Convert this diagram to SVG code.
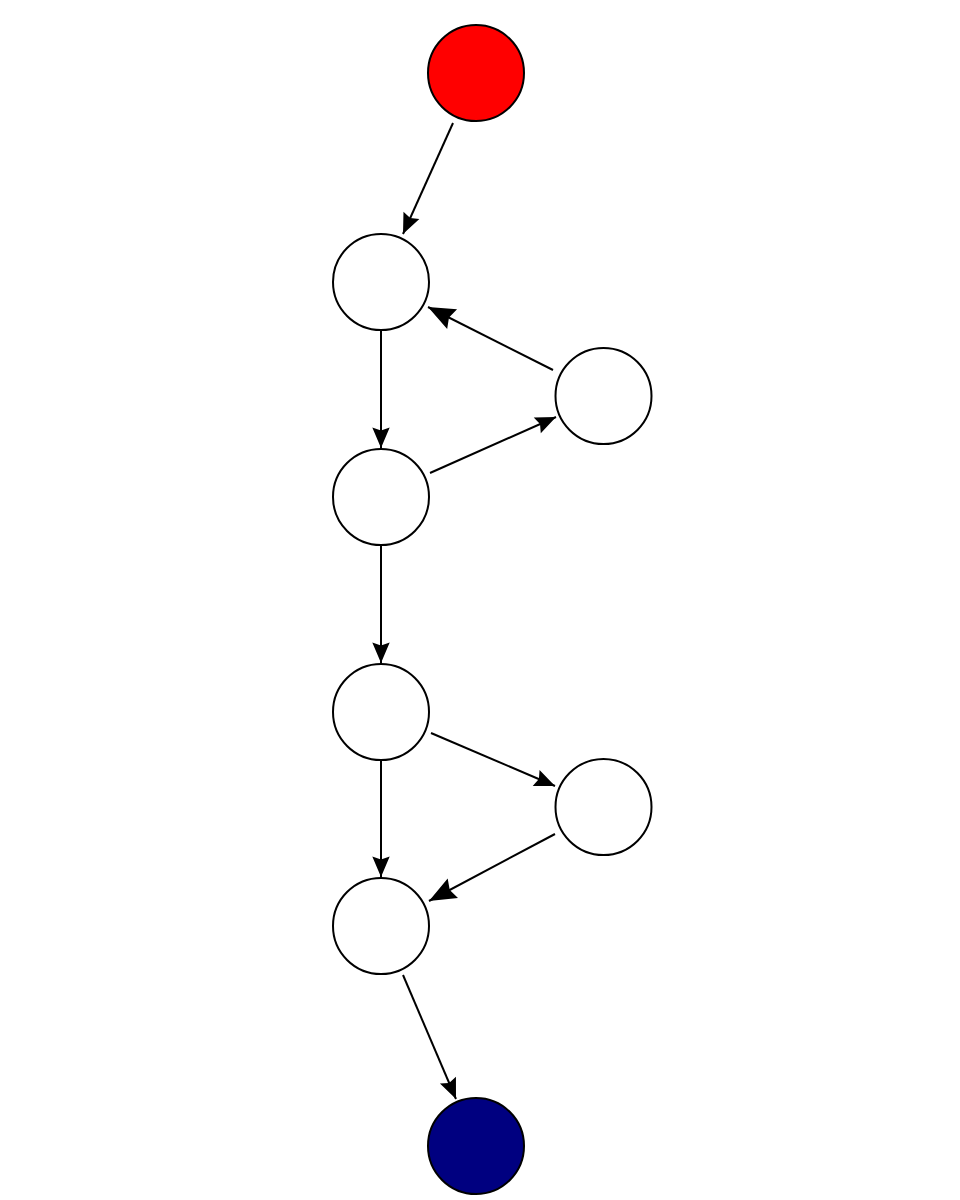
<svg xmlns="http://www.w3.org/2000/svg" width="960" height="1200" viewBox="0 0 960 1200">
<style>
.node{stroke:#000;stroke-width:2;fill:#fff}
.edge{stroke:#000;stroke-width:2;fill:none}
.sm{marker-end:url(#arrS)}
.lg{marker-end:url(#arrL)}
</style>
<defs>
<marker id="arrS" markerUnits="userSpaceOnUse" markerWidth="30" markerHeight="30" refX="25" refY="15" orient="auto" overflow="visible">
<path d="M25,15 L4.5,6.3 L7.5,15 L4.5,23.7 Z" fill="#000"/>
</marker>
<marker id="arrL" markerUnits="userSpaceOnUse" markerWidth="34" markerHeight="34" refX="30" refY="17" orient="auto" overflow="visible">
<path d="M30,17 L3,6 L6.5,17 L3,28 Z" fill="#000"/>
</marker>
</defs>
<rect width="960" height="1200" fill="#fff"/>
<g id="connectors">
<line class="edge sm" x1="453" y1="123" x2="403" y2="234"/>
<line class="edge lg" x1="553" y1="370" x2="428" y2="307"/>
<line class="edge sm" x1="381" y1="330" x2="381" y2="448"/>
<line class="edge sm" x1="430" y1="473" x2="556" y2="417"/>
<line class="edge sm" x1="381" y1="545" x2="381" y2="663"/>
<line class="edge sm" x1="431" y1="733" x2="555" y2="786"/>
<line class="edge sm" x1="381" y1="760" x2="381" y2="877"/>
<line class="edge lg" x1="555" y1="834" x2="429" y2="901"/>
<line class="edge sm" x1="403" y1="975" x2="456" y2="1099"/>
</g>
<g id="start"><circle class="node" cx="476" cy="73" r="48" style="fill:#ff0000"/></g>
<g id="n1"><circle class="node" cx="381" cy="282" r="48"/></g>
<g id="n2"><circle class="node" cx="603.5" cy="396" r="48"/></g>
<g id="n3"><circle class="node" cx="381" cy="497" r="48"/></g>
<g id="n4"><circle class="node" cx="381" cy="712" r="48"/></g>
<g id="n5"><circle class="node" cx="603.5" cy="807" r="48"/></g>
<g id="n6"><circle class="node" cx="381" cy="926" r="48"/></g>
<g id="end"><circle class="node" cx="476" cy="1146" r="48" style="fill:#000080"/></g>
</svg>
